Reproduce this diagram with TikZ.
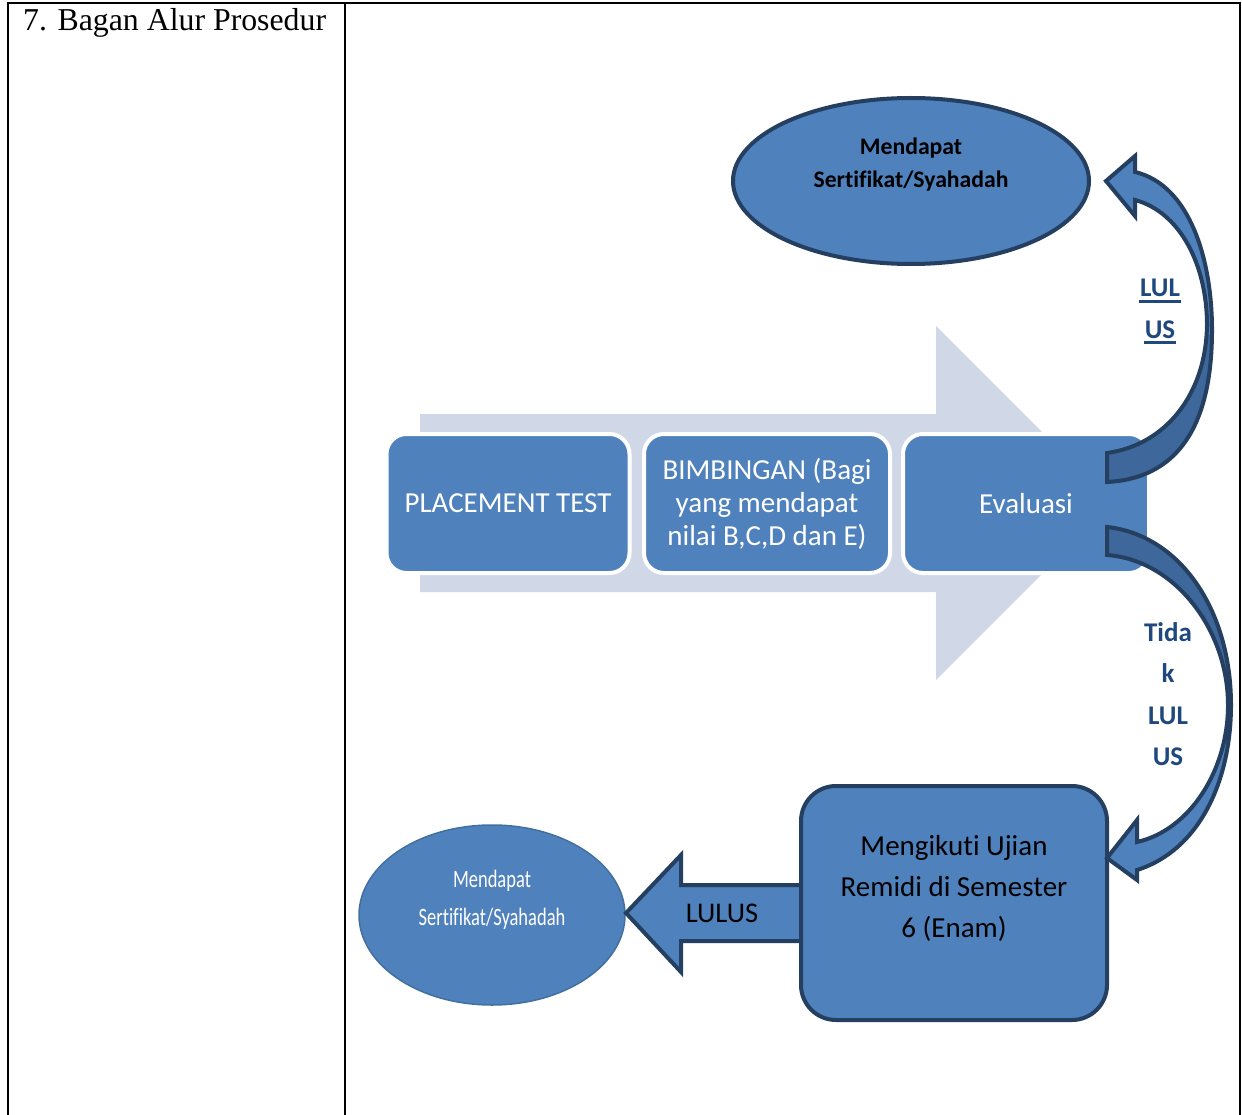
\documentclass[tikz,border=0pt]{standalone}
\usepackage{fontspec}
\setmainfont{Carlito}[Ligatures=NoCommon]
\newfontfamily\timesf{Liberation Serif}
\newfontfamily\condf[FakeStretch=0.74,Ligatures=NoCommon]{Carlito}
\usetikzlibrary{shapes.geometric}
\definecolor{accent}{HTML}{4F81BD}
\definecolor{navy}{HTML}{243F60}
\definecolor{darkband}{HTML}{3E689B}
\definecolor{bgarrow}{HTML}{D0D8E8}
\definecolor{labelblue}{HTML}{1F497D}
\definecolor{softedge}{HTML}{41709F}
\tikzset{
  tableline/.style={line width=2.5pt, black},
  stage/.style={rectangle, rounded corners=20pt, fill=accent, draw=white, line width=4pt,
    minimum height=139pt, text=white, align=center, inner sep=2pt,
    font=\fontsize{29}{33}\selectfont},
  blockarrow/.style={fill=accent, draw=navy, line width=4pt, line join=miter},
  lbl/.style={text=labelblue, font=\bfseries\fontsize{27}{41.3}\selectfont, inner sep=0pt, align=center},
  ulline/.style={draw=labelblue, line width=2.5pt}
}
\begin{document}
\begin{tikzpicture}[x=1pt,y=-1pt]
\useasboundingbox (0,0) rectangle (1242,1115);
\fill[white] (0,0) rectangle (1242,1115);
% table
\draw[tableline] (8,1115) -- (8,3) -- (1240,3) -- (1240,1115);
\draw[tableline] (345,3) -- (345,1115);
\node[anchor=base west, inner sep=0pt, font=\timesf\fontsize{31.8}{36}\selectfont] (title) at (23,31) {7. Bagan Alur Prosedur};
% background arrow
\fill[bgarrow] (420,414) -- (936,414) -- (936,326) -- (1113,503) -- (936,680) -- (936,592) -- (420,592) -- cycle;
% stages
\node[stage, minimum width=243pt] (place) at (508,503.5) {PLACEMENT TEST};
\node[stage, minimum width=246pt] (bimb) at (767,503.5) {BIMBINGAN (Bagi\\yang mendapat\\nilai B,C,D dan E)};
\node[stage, minimum width=246pt] (eval) at (1026,503.5) {Evaluasi};
% top ellipse
\node[ellipse, fill=accent, draw=navy, line width=4pt, minimum width=356pt, minimum height=166pt] (topcert) at (911,181) {};
\node[align=center, font=\bfseries\fontsize{23.7}{33}\selectfont, inner sep=0pt] (toptext) at ([yshift=16.5pt]topcert.center) {Mendapat\\Sertifikat/Syahadah};
% bottom ellipse
\node[ellipse, fill=accent, draw=softedge, line width=1.5pt, minimum width=266pt, minimum height=180pt] (botcert) at (492,915) {};
\node[align=center, text=white, font=\condf\fontsize{25}{38}\selectfont, inner sep=0pt] (bottext) at ([yshift=15pt]botcert.center) {Mendapat\\Sertifikat/Syahadah};
% LULUS arrow
\path[blockarrow] (803,885) -- (681,885) -- (681,855) -- (626,913) -- (681,972) -- (681,941) -- (803,941) -- cycle;
% remidi box
\node[rectangle, rounded corners=35pt, fill=accent, draw=navy, line width=4pt, minimum width=306pt, minimum height=234pt] (remidi) at (954,903) {};
\node[align=center, font=\fontsize{29}{41}\selectfont, inner sep=0pt] (remiditext) at ([yshift=15pt]remidi.center) {Mengikuti Ujian\\Remidi di Semester\\6 (Enam)};
\node[font=\fontsize{28.5}{33}\selectfont, inner sep=0pt] (lulustext) at (722,913) {LULUS};
% top curved arrow (Evaluasi -> top certificate)
\def\toparrow{(1107,482) -- (1107,453) .. controls (1165,445) and (1206,395) .. (1207,325) .. controls (1207,265) and (1180,212) .. (1135,200) -- (1135,216) -- (1106,181) -- (1135,156) -- (1135,172) .. controls (1190,185) and (1212,260) .. (1212,330) .. controls (1212,415) and (1185,478) .. (1107,482) -- cycle}
\fill[accent] \toparrow;
\begin{scope}
\clip (1100,335) rectangle (1240,500);
\fill[darkband] \toparrow;
\end{scope}
\draw[navy, line width=4pt, line join=miter] \toparrow;
% bottom curved arrow (Evaluasi -> remidi)
\def\botarrow{(1107,527) -- (1107,555) .. controls (1175,560) and (1228,630) .. (1228,705) .. controls (1228,770) and (1190,830) .. (1137,842) -- (1137,820) -- (1107,858) -- (1137,880) -- (1137,870) .. controls (1200,850) and (1231,780) .. (1231,705) .. controls (1231,610) and (1180,535) .. (1107,527) -- cycle}
\fill[accent] \botarrow;
\begin{scope}
\clip (1100,500) rectangle (1240,700);
\fill[darkband] \botarrow;
\end{scope}
\draw[navy, line width=4pt, line join=miter] \botarrow;
% labels
\node[lbl, anchor=base] (lulA) at (1160,297) {LUL};
\draw[ulline] ([yshift=-4.5pt,xshift=-1pt]lulA.base west) -- ([yshift=-4.5pt,xshift=1pt]lulA.base east);
\node[lbl, anchor=base] (lulB) at (1160,338) {US};
\draw[ulline] ([yshift=-4.5pt,xshift=-1pt]lulB.base west) -- ([yshift=-4.5pt,xshift=1pt]lulB.base east);
\node[lbl] (tidak) at (1168,694) {Tida\\k\\LUL\\US};
\end{tikzpicture}
\end{document}
